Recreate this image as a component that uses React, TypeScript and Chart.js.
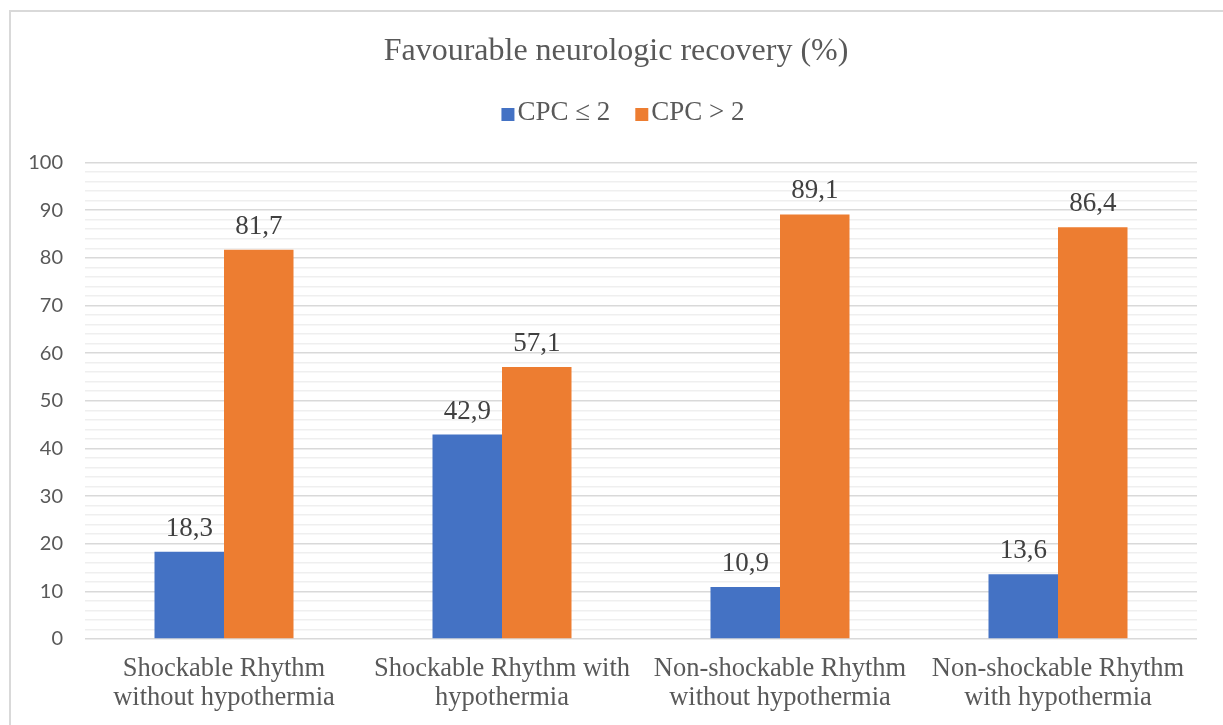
import React, { useEffect, useRef } from 'react';
import { Chart, registerables } from 'chart.js';

Chart.register(...registerables);

const titleText = 'Favourable neurologic recovery (%)';
const categories: string[][] = [
  ['Shockable Rhythm', 'without hypothermia'],
  ['Shockable Rhythm with', 'hypothermia'],
  ['Non-shockable Rhythm', 'without hypothermia'],
  ['Non-shockable Rhythm', 'with hypothermia'],
];
const seriesNames = ['CPC \u2264 2', 'CPC > 2'];
const cpcLowValues = [18.3, 42.9, 10.9, 13.6];
const cpcHighValues = [81.7, 57.1, 89.1, 86.4];
const seriesColors = ['#4472C4', '#ED7D31'];
const yMin = 0;
const yMax = 100;
const yMinorStep = 2;
const yMajorStep = 10;

const SERIF = "'Liberation Serif', 'Times New Roman', serif";
const SANS = "Lato, 'Noto Sans', sans-serif";
const TEXT_COLOR = '#595959';

Chart.defaults.font.family = SERIF;

const framePlugin = {
  id: 'frame',
  beforeDraw(chart: any) {
    const ctx = chart.ctx;
    ctx.save();
    ctx.strokeStyle = '#D9D9D9';
    ctx.lineWidth = 2;
    ctx.strokeRect(10, 11, 3000, 3000);
    ctx.restore();
  },
};

// Title and legend header (legend entries come from the chart's datasets)
const headerPlugin = {
  id: 'header',
  afterDraw(chart: any) {
    const ctx = chart.ctx;
    ctx.save();
    ctx.font = `normal 32px ${SERIF}`;
    ctx.fillStyle = TEXT_COLOR;
    ctx.textAlign = 'center';
    ctx.textBaseline = 'middle';
    ctx.fillText(titleText, 616, 52);

    const box = 13;
    const boxGap = 3;
    const itemGap = 25;
    ctx.font = `normal 27px ${SERIF}`;
    const items = chart.data.datasets.map((ds: any) => ({
      label: ds.label,
      color: ds.backgroundColor,
      w: ctx.measureText(ds.label).width,
    }));
    const total =
      items.reduce((s: number, it: any) => s + box + boxGap + it.w, 0) + itemGap * (items.length - 1);
    let x = 623 - total / 2;
    const baseline = 120;
    ctx.textAlign = 'left';
    ctx.textBaseline = 'alphabetic';
    items.forEach((it: any) => {
      ctx.fillStyle = it.color;
      ctx.fillRect(x, 108, box, box);
      ctx.fillStyle = TEXT_COLOR;
      ctx.fillText(it.label, x + box + boxGap, baseline);
      x += box + boxGap + it.w + itemGap;
    });
    ctx.restore();
  },
};

const valueLabelPlugin = {
  id: 'valueLabels',
  afterDatasetsDraw(chart: any) {
    const ctx = chart.ctx;
    ctx.save();
    ctx.font = `normal 27px ${SERIF}`;
    ctx.fillStyle = '#404040';
    ctx.textAlign = 'center';
    ctx.textBaseline = 'alphabetic';
    chart.data.datasets.forEach((ds: any, di: number) => {
      const meta = chart.getDatasetMeta(di);
      meta.data.forEach((bar: any, i: number) => {
        const v = ds.data[i];
        const txt = v.toFixed(1).replace('.', ',');
        ctx.fillText(txt, bar.x, bar.y - 16);
      });
    });
    ctx.restore();
  },
};

export default function App() {
  const canvasRef = useRef<HTMLCanvasElement | null>(null);

  useEffect(() => {
    if (!canvasRef.current) return;
    const chart = new Chart(canvasRef.current, {
      type: 'bar',
      data: {
        labels: categories,
        datasets: [
          {
            label: seriesNames[0],
            data: cpcLowValues,
            backgroundColor: seriesColors[0],
            borderWidth: 0,
            categoryPercentage: 0.5,
            barPercentage: 1.0,
          },
          {
            label: seriesNames[1],
            data: cpcHighValues,
            backgroundColor: seriesColors[1],
            borderWidth: 0,
            categoryPercentage: 0.5,
            barPercentage: 1.0,
          },
        ],
      },
      options: {
        responsive: false,
        animation: false,
        devicePixelRatio: 1,
        layout: { padding: { left: 0, right: 26, top: 162.5, bottom: 0 } },
        plugins: {
          title: { display: false },
          legend: { display: false },
          tooltip: { enabled: false },
        },
        scales: {
          x: {
            grid: { display: false, drawTicks: false },
            border: { display: false },
            ticks: {
              color: TEXT_COLOR,
              font: { family: SERIF, size: 26.5, weight: 'normal', lineHeight: 1.094 },
              padding: 16,
              maxRotation: 0,
              autoSkip: false,
            },
            afterFit(scale: any) {
              scale.height = 86;
            },
          },
          y: {
            min: yMin,
            max: yMax,
            border: { display: false },
            grid: {
              drawTicks: false,
              color: (ctx: any) =>
                ctx.tick && ctx.tick.value % yMajorStep === 0 ? '#D9D9D9' : '#EFEFEF',
              lineWidth: 1.5,
            },
            ticks: {
              stepSize: yMinorStep,
              color: TEXT_COLOR,
              font: { family: SANS, size: 20, weight: 'normal' },
              padding: 22,
              autoSkip: false,
              callback: (v: any) => (Number(v) % yMajorStep === 0 ? String(v) : ''),
            },
            afterFit(scale: any) {
              scale.width = 85;
            },
          },
        },
      } as any,
      plugins: [framePlugin, headerPlugin, valueLabelPlugin],
    });
    return () => chart.destroy();
  }, []);

  return (
    <div style={{ position: 'fixed', left: 0, top: 0, width: 1223, height: 725, background: '#fff' }}>
      <canvas ref={canvasRef} width={1223} height={725} />
    </div>
  );
}
